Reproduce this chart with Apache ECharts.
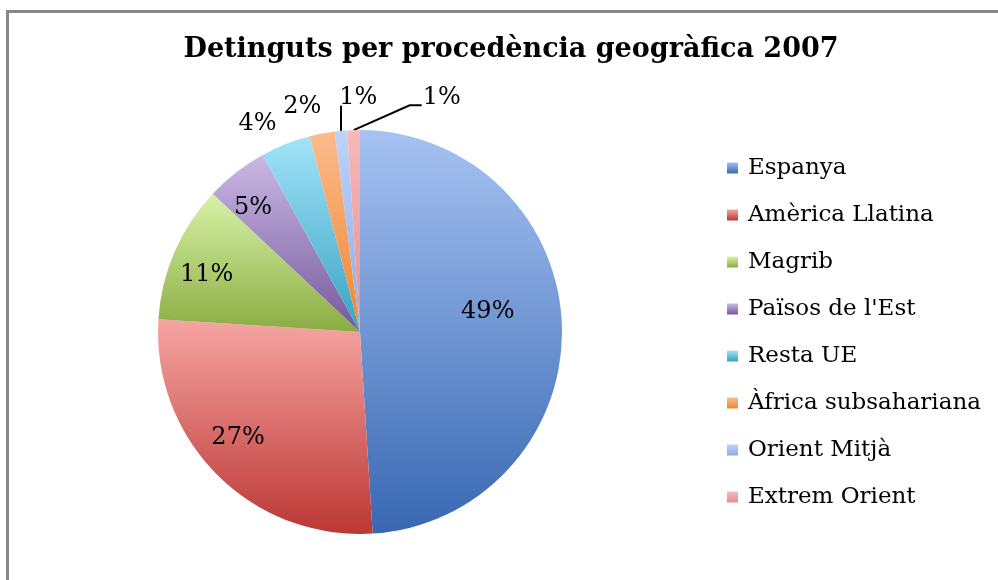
<!DOCTYPE html>
<html>
<head>
<meta charset="utf-8">
<script src="https://cdn.jsdelivr.net/npm/echarts@6/dist/echarts.min.js"></script>
<style>
  html, body { margin: 0; padding: 0; background: #fff; }
  #frame { position: absolute; left: 6px; top: 10px; width: 1100px; height: 700px;
           border-left: 3px solid #888; border-top: 3px solid #888; }
  #main { position: absolute; left: 0; top: 0; width: 998px; height: 580px; }
</style>
</head>
<body>
<div id="frame"></div>
<div id="main"></div>
<script>
// dades
const categories = ['Espanya', 'Amèrica Llatina', 'Magrib', "Països de l'Est", 'Resta UE',
  'Àfrica subsahariana', 'Orient Mitjà', 'Extrem Orient']
const values = [49, 27, 11, 5, 4, 2, 1, 1]

// colors (degradat de dalt a baix)
const topColors = ['#a6c2f2', '#f6a5a2', '#d8f2a8', '#cab8e4', '#a2e3f9', '#fcbb8c', '#bdd3fa', '#f9b9b9']
const bottomColors = ['#3868b2', '#bb3734', '#8aac42', '#76589c', '#38a3c2', '#ef8630', '#8eace2', '#e48e8e']

// posició de les etiquetes: [radi relatiu, desplaçament angular en graus]
const labelPlace = [[0.64, -7], [0.8, 4], [0.81, -3], [0.81, -3], [1.15, -4.6], [1.15, -3.6], [1.16, 5], [1.23, 21]]
const withLine = [false, false, false, false, false, false, true, true]

const cx = 360, cy = 332, R = 202

const total = values.reduce((a, b) => a + b, 0)
const midAngles = []
let acc = 0
values.forEach(v => {
  midAngles.push((acc + v / 2) / total * 360)
  acc += v
})

const polar = (r, deg) => {
  const a = deg * Math.PI / 180
  return [cx + r * Math.sin(a), cy - r * Math.cos(a)]
}

const myChart = echarts.init(document.getElementById('main'))

const data = categories.map((name, i) => ({
  name: name,
  value: values[i],
  itemStyle: {
    color: new echarts.graphic.LinearGradient(0, 0, 0, 1, [
      { offset: 0, color: topColors[i] },
      { offset: 1, color: bottomColors[i] }
    ])
  },
  label: { position: labelPlace[i][0] < 1 ? 'inside' : 'outside' },
  labelLine: { show: withLine[i] }
}))

myChart.setOption({
  animation: false,
  title: {
    text: 'Detinguts per procedència geogràfica 2007',
    left: 506,
    textAlign: 'center',
    top: 31,
    textStyle: { fontFamily: 'DejaVu Serif', fontWeight: 'bold', fontSize: 27, color: '#000' }
  },
  legend: {
    orient: 'vertical',
    left: 722,
    top: 150,
    icon: 'rect',
    itemWidth: 11,
    itemHeight: 11,
    itemGap: 21,
    selectedMode: false,
    data: categories,
    textStyle: { fontFamily: 'DejaVu Serif', fontSize: 23, color: '#000', lineHeight: 26, padding: [0, 0, 0, 5] }
  },
  series: [
    {
      name: 'Detinguts',
      type: 'pie',
      center: [cx, cy],
      radius: R,
      startAngle: 90,
      clockwise: true,
      avoidLabelOverlap: false,
      silent: true,
      label: {
        show: true,
        formatter: p => Math.round(p.value / total * 100) + '%',
        fontFamily: 'DejaVu Serif',
        fontSize: 24,
        color: '#000'
      },
      labelLine: { show: false, length: 10, length2: 10, lineStyle: { color: '#000', width: 2 } },
      labelLayout: params => {
        const i = params.dataIndex
        const pos = polar(labelPlace[i][0] * R, midAngles[i] + labelPlace[i][1])
        const res = { x: pos[0], y: pos[1], align: 'center', verticalAlign: 'middle' }
        if (withLine[i]) {
          const w = params.labelRect.width
          const start = polar(R, midAngles[i])
          const end = [pos[0] - w / 2 - 1, pos[1] + 8]
          if (end[0] - start[0] > 15) {
            res.labelLinePoints = [start, [end[0] - 12, end[1]], end]
          } else {
            res.labelLinePoints = [start, [start[0], end[1]], [start[0], end[1]]]
          }
        }
        return res
      },
      data: data
    }
  ]
})
</script>
</body>
</html>
